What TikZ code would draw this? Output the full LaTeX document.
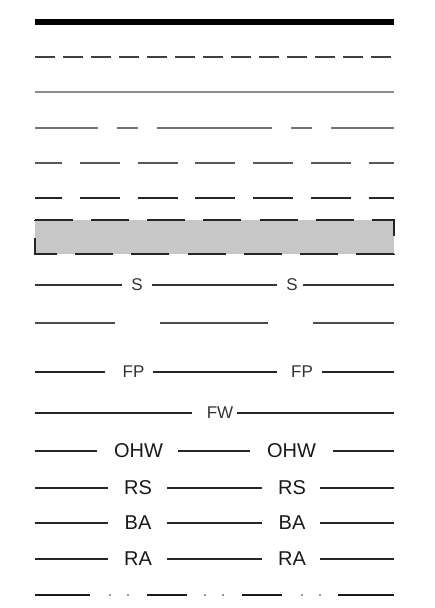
\documentclass[tikz,border=0pt]{standalone}
\usepackage{fontspec}
\setmainfont{Liberation Sans}
\begin{document}
\begin{tikzpicture}[x=0.5pt, y=-0.5pt,
  kecil/.style={text=black!80, font=\fontsize{8.5}{10}\selectfont, inner sep=0pt},
  besar/.style={text=black!90, font=\fontsize{10}{12}\selectfont, inner sep=0pt}]

\useasboundingbox (0,0) rectangle (434,608);

% garis tebal
\draw[line width=3pt] (35,22) -- (394,22);

% garis putus-putus rapat
\draw[black!75, line width=1pt, dash pattern=on 9.75pt off 4.25pt] (35,57) -- (394,57);

% garis tipis abu-abu
\draw[black!45, line width=0.9pt] (35,92) -- (394,92);

% garis panjang-pendek
\draw[black!55, line width=1pt, dash pattern=on 57.5pt off 9.5pt on 10.5pt off 9.5pt, dash phase=26pt] (35,128) -- (394,128);

% garis putus-putus
\draw[black!65, line width=1pt, dash pattern=on 20pt off 8.9pt, dash phase=6.5pt] (35,163) -- (394,163);
\draw[black!85, line width=1.3pt, dash pattern=on 20pt off 8.9pt, dash phase=6.5pt] (35,198) -- (394,198);

% kotak arsir
\fill[black!22] (35,220) rectangle (394,254);
\draw[black!85, line width=1.1pt, dash pattern=on 19pt off 9.07pt] (35,220) -- (394,220) -- (394,254) -- (35,254) -- cycle;

% garis S
\foreach \a/\b in {35/122, 152/277, 303/394} {
    \draw[black!80, line width=1.1pt] (\a,285) -- (\b,285);
}
\node[kecil] (s1) at (137,285) {S};
\node[kecil] (s2) at (292,285) {S};

% garis terputus
\foreach \a/\b in {35/115, 160/268, 313/394} {
    \draw[black!70, line width=1.1pt] (\a,323) -- (\b,323);
}

% garis FP
\foreach \a/\b in {35/105, 153/277, 322/394} {
    \draw[black!85, line width=0.9pt] (\a,372) -- (\b,372);
}
\node[kecil] (fp1) at (133.5,372) {FP};
\node[kecil] (fp2) at (302,372) {FP};

% garis FW
\foreach \a/\b in {35/192, 237/394} {
    \draw[black!85, line width=0.9pt] (\a,413) -- (\b,413);
}
\node[kecil] (fw) at (220,413) {FW};

% garis OHW
\foreach \a/\b in {35/97, 178/250, 333/394} {
    \draw[black!85, line width=0.9pt] (\a,451) -- (\b,451);
}
\node[besar] (ohw1) at (138.5,451) {OHW};
\node[besar] (ohw2) at (291.5,451) {OHW};

% garis RS, BA, RA
\foreach \y/\t/\n in {488/RS/rs, 523/BA/ba, 559/RA/ra} {
    \foreach \a/\b in {35/108, 167/262, 320/394} {
        \draw[black!85, line width=0.9pt] (\a,\y) -- (\b,\y);
    }
    \node[besar] (\n1) at (138,\y) {\t};
    \node[besar] (\n2) at (292,\y) {\t};
}

% garis titik-titik
\foreach \a/\b in {35/90, 147/187, 242/282, 338/394} {
    \draw[black!90, line width=1.4pt] (\a,595) -- (\b,595);
}
\foreach \x in {110,128,205,223,302,320} {
    \fill[black!55] (\x,595) circle (0.6pt);
}

\end{tikzpicture}
\end{document}
